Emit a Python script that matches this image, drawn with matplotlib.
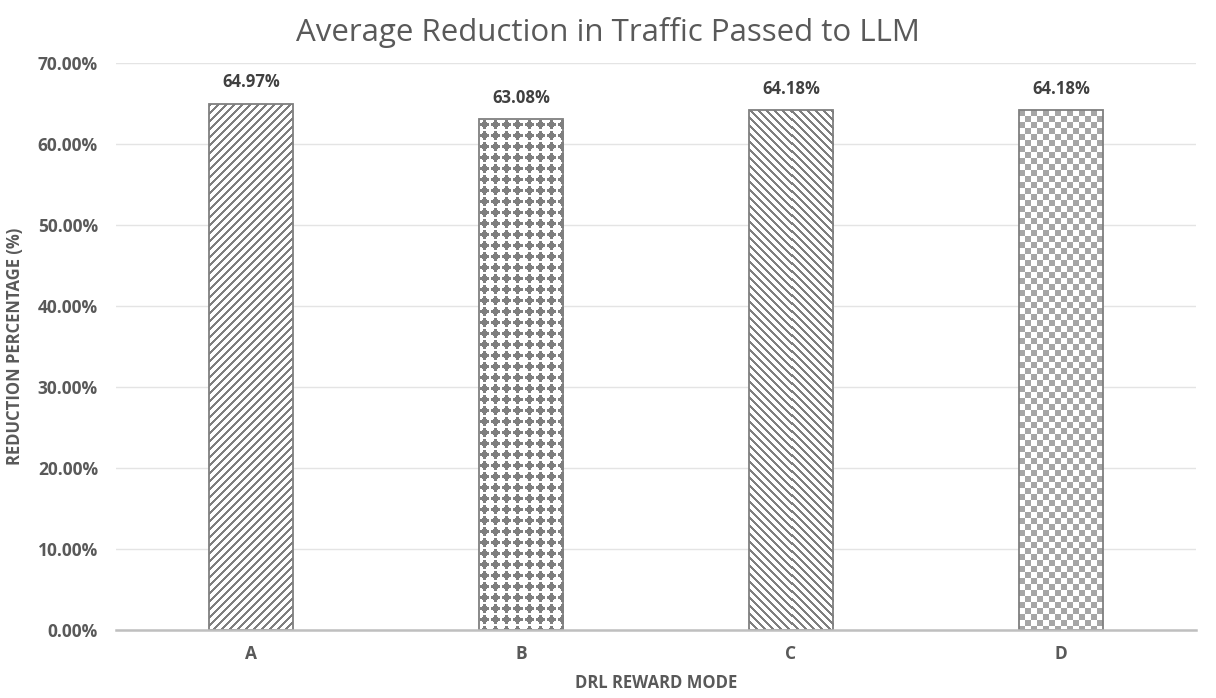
import numpy as np
import matplotlib
matplotlib.use("Agg")
from matplotlib import pyplot as plt
from matplotlib.ticker import PercentFormatter

modes = ["A", "B", "C", "D"]
reduction = [64.97, 63.08, 64.18, 64.18]
value_labels = ["64.97%", "63.08%", "64.18%", "64.18%"]
fills = ["up", "diamond", "down", "checker"]

GRAY = "#7f7f7f"
TEXT = "#595959"


def stripe_tile(direction, pitch=8, thick=3):
    t = np.ones((pitch, pitch))
    for r in range(pitch):
        for q in range(pitch):
            k = (r + q) if direction == "up" else (q - r)
            if k % pitch < thick:
                t[r, q] = 0.0
    return t


def diamond_tile(pitch=11):
    t = np.ones((pitch, pitch))
    c = pitch // 2
    for r in range(pitch):
        for q in range(pitch):
            dr, dq = abs(r - c), abs(q - c)
            if dr + dq <= 4 or (dr == 1 and dq == 4) or (dq == 1 and dr == 4):
                t[r, q] = 0.0
    return t


def checker_tile(cell=6):
    t = np.ones((2 * cell, 2 * cell))
    t[:cell, :cell] = 0.0
    t[cell:, cell:] = 0.0
    return t


def texture_bar(ax, bar, tile, dark):
    # fill a bar with a pixel pattern, clipped to its outline;
    # the image is snapped to whole pixels so nearest sampling is 1:1
    x0, y0 = bar.get_x(), bar.get_y()
    x1, y1 = x0 + bar.get_width(), y0 + bar.get_height()
    corners = np.round(ax.transData.transform([(x0, y0), (x1, y1)]))
    (px0, py0), (px1, py1) = corners
    w, h = int(px1 - px0), int(py1 - py0)
    (ex0, ey0), (ex1, ey1) = ax.transData.inverted().transform(corners)
    reps = (h // tile.shape[0] + 2, w // tile.shape[1] + 2)
    img = np.tile(tile, reps)[:h, :w]
    rgb = np.empty((h, w, 3))
    dark_rgb = np.array(matplotlib.colors.to_rgb(dark))
    for k in range(3):
        rgb[..., k] = np.where(img > 0.5, 1.0, dark_rgb[k])
    ax.imshow(rgb, extent=(ex0, ex1, ey0, ey1), interpolation="nearest",
              aspect="auto", zorder=2, clip_path=bar, origin="upper")


plt.rcParams["font.family"] = ["Open Sans", "DejaVu Sans"]

fig = plt.figure(figsize=(12.16, 6.98), dpi=100)
ax = fig.add_axes([116 / 1216, 68 / 698, (1196 - 116) / 1216, (630 - 63) / 698])

x = np.arange(len(modes))
ax.set_xlim(-0.5, len(modes) - 0.5)
ax.set_ylim(0, 70)

bars = ax.bar(x, reduction, width=0.31, facecolor="none", edgecolor=GRAY,
              linewidth=1.3, zorder=3)

tiles = {
    "up": (stripe_tile("up"), GRAY),
    "down": (stripe_tile("down"), GRAY),
    "diamond": (diamond_tile(), GRAY),
    "checker": (checker_tile(), "#a6a6a6"),
}
for b, fill in zip(bars, fills):
    tile, dark = tiles[fill]
    texture_bar(ax, b, tile, dark)

for xi, val, lab in zip(x, reduction, value_labels):
    ax.annotate(lab, (xi, val), xytext=(0, 9), textcoords="offset points",
                ha="center", va="bottom", fontsize=12, fontweight="bold",
                color="#404040")

ax.set_xlim(-0.5, len(modes) - 0.5)
ax.set_ylim(0, 70)
ax.set_yticks(np.arange(0, 71, 10))
ax.yaxis.set_major_formatter(PercentFormatter(decimals=2))
ax.set_xticks(x)
ax.set_xticklabels(modes)
ax.tick_params(axis="both", length=0, labelsize=12.5, labelcolor=TEXT)
ax.tick_params(axis="x", pad=11)
ax.tick_params(axis="y", pad=13)
for lab in ax.get_xticklabels() + ax.get_yticklabels():
    lab.set_fontweight("bold")

ax.grid(axis="y", color="#e4e4e4", linewidth=1.0, zorder=0)
ax.set_axisbelow(True)
for side in ("left", "right", "top"):
    ax.spines[side].set_visible(False)
ax.spines["bottom"].set_color("#bfbfbf")
ax.spines["bottom"].set_linewidth(1.8)
ax.spines["bottom"].set_zorder(4)

ax.set_xlabel("DRL REWARD MODE", fontsize=12, fontweight="bold", color=TEXT,
              labelpad=8)
ax.set_ylabel("REDUCTION PERCENTAGE (%)", fontsize=12, fontweight="bold",
              color=TEXT, labelpad=10)
fig.suptitle("Average Reduction in Traffic Passed to LLM", y=0.975,
             fontsize=22.5, color=TEXT)

fig.savefig("out.png", dpi=100)
